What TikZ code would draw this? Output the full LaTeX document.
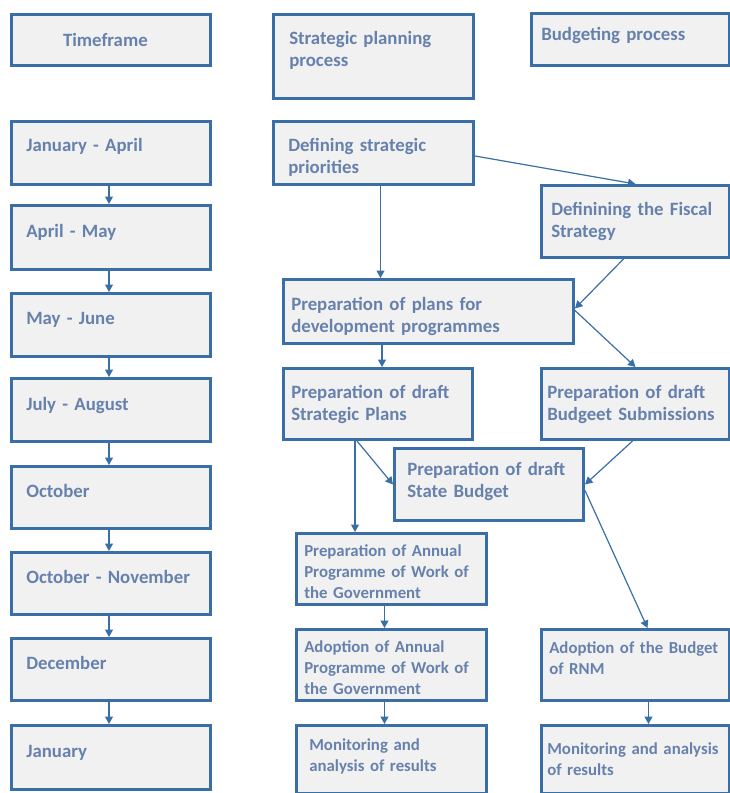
\documentclass[tikz,border=0pt]{standalone}
\usepackage{fontspec}
\setmainfont{Carlito}
\usetikzlibrary{arrows.meta}
\definecolor{edgeblue}{HTML}{3A6EA6}
\definecolor{boxgray}{HTML}{F1F1F2}
\definecolor{txtblue}{HTML}{6781AD}
\tikzset{
    box/.style={draw=edgeblue, line width=2.6pt, fill=boxgray, text=txtblue,
        anchor=north west, align=left, inner ysep=0pt,
        font=\bfseries\fontsize{18.8}{22}\selectfont},
    timebox/.style={box, text depth=13pt, text width=169.4, inner xsep=15},
    small/.style={font=\bfseries\fontsize{16.8}{21}\selectfont},
    arr/.style={draw=edgeblue, line width=1.2pt, -{Triangle[length=7.5pt,width=8pt]}}
}
\begin{document}
\begin{tikzpicture}[x=1pt, y=-1pt]
    \useasboundingbox (0,0) rectangle (730,793);

    % Timeframe column
    \node[box, minimum height=51.4, text width=96, inner xsep=51.7] (tf) at (10,13) {Timeframe};
    \node[timebox, minimum height=63.4, text depth=17pt] (ja) at (10,120) {January - April};
    \node[timebox, minimum height=64.4] (am) at (10,204) {April - May};
    \node[timebox, minimum height=63.4] (mj) at (10,292) {May - June};
    \node[timebox, minimum height=63.4] (jaug) at (10,377) {July - August};
    \node[timebox, minimum height=62.4] (oct) at (10,465) {October};
    \node[timebox, minimum height=62.4] (on) at (10,551) {October - November};
    \node[timebox, minimum height=62.4] (dec) at (10,637) {December};
    \node[timebox, minimum height=64.4] (jan) at (10,724) {January};

    % Strategic planning column
    \node[box, minimum height=84.4, text width=168.4, inner xsep=16, text depth=38pt] (spp) at (272,13) {Strategic planning\\process};
    \node[box, minimum height=63.4, text width=170.4, inner xsep=15, text depth=16pt] (prio) at (272,120) {Defining strategic\\priorities};
    \node[box, minimum height=64.4, text width=274.4, inner xsep=8, text depth=15pt] (plans) at (282,278) {Preparation of plans for\\development programmes};
    \node[box, minimum height=71.4, text width=173.4, inner xsep=8] (dsp) at (282,367) {Preparation of draft\\Strategic Plans};
    \node[box, minimum height=72.4, text width=163.4, inner xsep=13, text depth=32pt] (sb) at (393,447) {Preparation of draft\\State Budget};
    \node[box, small, minimum height=71.4, text width=174.4, inner xsep=8, text depth=36pt] (anp) at (295,532) {Preparation of Annual\\Programme of Work of\\the Government};
    \node[box, small, minimum height=71.4, text width=174.4, inner xsep=8, text depth=36pt] (ada) at (295,628) {Adoption of Annual\\Programme of Work of\\the Government};
    \node[box, small, minimum height=68.4, text width=164.4, inner xsep=13, text depth=29pt] (mon) at (295,724) {Monitoring and\\analysis of results};

    % Budgeting column
    \node[box, minimum height=52.4, text width=178.4, inner xsep=10, text depth=12pt] (bp) at (530,12) {Budgeting process};
    \node[box, minimum height=72.4, text width=168.4, inner xsep=10] (fis) at (540,184) {Definining the Fiscal\\Strategy};
    \node[box, minimum height=71.4, text width=176.4, inner xsep=6] (bs) at (540,367) {Preparation of draft\\Budgeet Submissions};
    \node[box, small, minimum height=71.4, text width=172.4, inner xsep=8, text depth=34pt] (adb) at (540,628) {Adoption of the Budget\\of RNM};
    \node[box, small, minimum height=68.4, text width=176.4, inner xsep=6] (monb) at (540,724) {Monitoring and analysis\\of results};

    % Timeframe arrows
    \foreach \a/\b in {ja/am, am/mj, mj/jaug, jaug/oct, oct/on, on/dec, dec/jan} {
        \draw[arr] ([xshift=-2pt]\a.south) -- ([xshift=-2pt]\b.north);
    }

    % Process arrows
    \draw[arr] ([xshift=7pt]prio.south) -- ([xshift=7pt]prio.south |- plans.north);
    \draw[arr] ([yshift=-3pt]prio.east) -- (fis.north);
    \draw[arr] ([xshift=-12pt]fis.south) -- ([yshift=3pt]plans.east);
    \draw[arr] ([yshift=1pt]plans.east) -- (bs.north);
    \draw[arr] ([xshift=4pt]dsp.north |- plans.south) -- ([xshift=4pt]dsp.north);
    \draw[arr] ([xshift=-23pt]dsp.south) -- ([xshift=-23pt]dsp.south |- anp.north);
    \draw[arr] ([xshift=-21pt]dsp.south) -- (sb.west);
    \draw[arr] ([xshift=-3pt]bs.south) -- (sb.east);
    \draw[arr] ([yshift=-6pt]sb.east) -- ([xshift=12pt]adb.north);
    \draw[arr] ([xshift=-7pt]anp.south) -- ([xshift=-7pt]ada.north);
    \draw[arr] ([xshift=-7pt]ada.south) -- ([xshift=-7pt]mon.north);
    \draw[arr] ([xshift=13pt]adb.south) -- ([xshift=13pt]monb.north);
\end{tikzpicture}
\end{document}
